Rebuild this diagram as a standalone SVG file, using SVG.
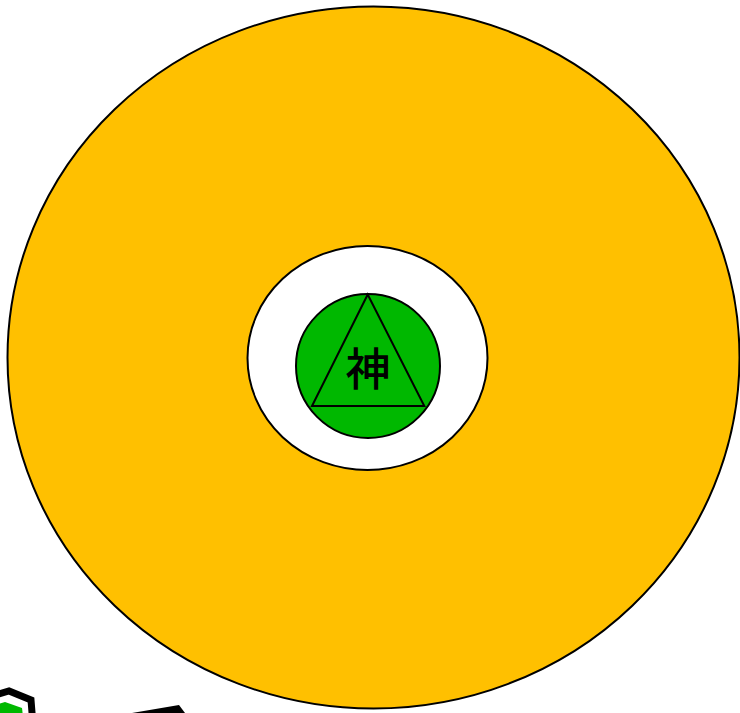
<svg xmlns="http://www.w3.org/2000/svg" width="740" height="713" viewBox="0 0 740 713">
<style>
.ol{stroke:#000;stroke-width:2}
.lbl{font-family:"Noto Sans CJK JP","Noto Sans CJK SC",sans-serif;font-size:45px;font-weight:500;fill:#000;text-anchor:middle}
</style>
<rect width="740" height="713" fill="#fff"/>
<g id="outer"><ellipse cx="373.5" cy="357.5" rx="366" ry="351" fill="#ffc000" class="ol"/></g>
<g id="inner"><ellipse cx="367.5" cy="358" rx="120" ry="112" fill="#fff" class="ol"/></g>
<g id="core">
<circle cx="368" cy="366" r="72" fill="#00b800" class="ol"/>
<polygon points="367.7,294.5 312,406 424.3,406" fill="none" class="ol"/>
<text x="368" y="386" class="lbl">神</text>
</g>
<g id="hex">
<polygon points="-12,697 9,691 31,700 33,725 10,735 -12,725" fill="#fff" stroke="#000" stroke-width="7"/>
<polygon points="-8,706 5,702 22,708 24,725 5,730 -8,725" fill="#00b800"/>
</g>
<g id="wedge">
<polygon points="132,713 179,705 185,713" fill="#000"/>
</g>
</svg>
